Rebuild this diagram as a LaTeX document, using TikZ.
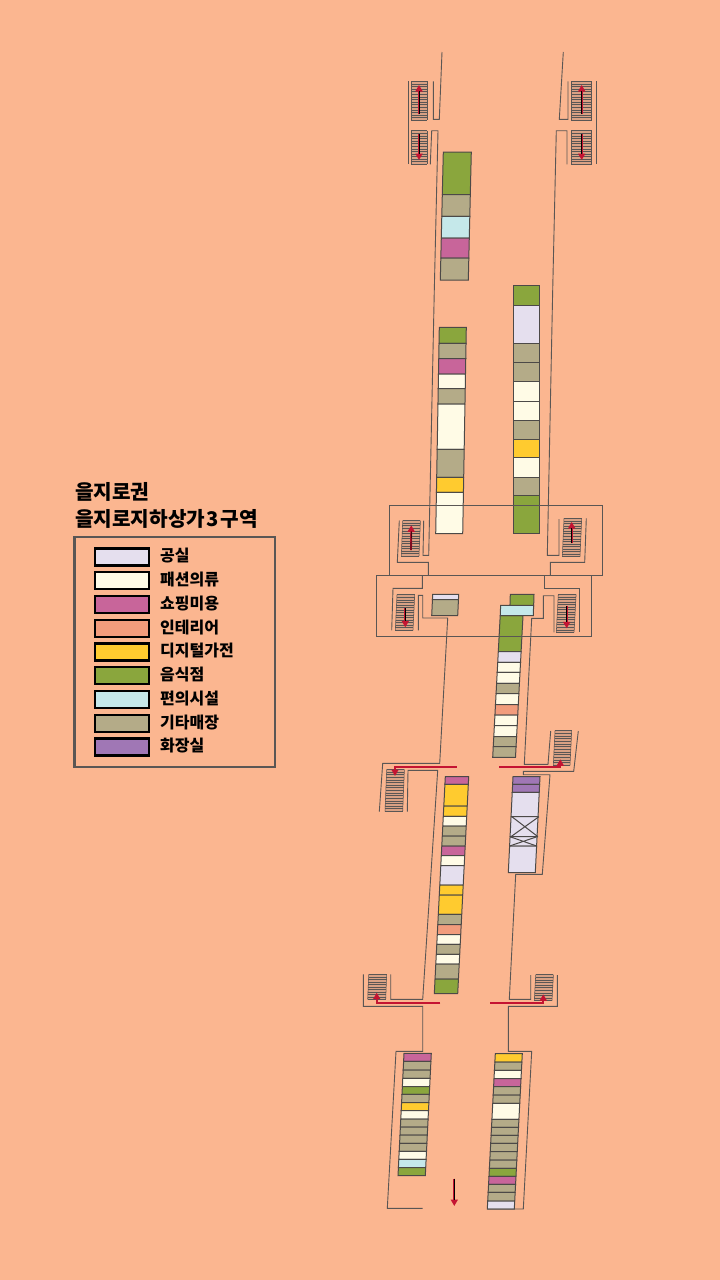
\documentclass[tikz,border=0pt]{standalone}
\usepackage{xcolor}
\usepackage{fontspec}
\setmainfont{Noto Sans CJK KR}
\usetikzlibrary{arrows.meta, positioning, calc}

\definecolor{paper}{HTML}{FBB690}
\definecolor{vacant}{HTML}{E5DFEE}
\definecolor{fashion}{HTML}{FFFBE6}
\definecolor{beauty}{HTML}{C8659A}
\definecolor{interior}{HTML}{F29C7C}
\definecolor{digital}{HTML}{FFCB2F}
\definecolor{food}{HTML}{8AA63D}
\definecolor{conv}{HTML}{C5E8EA}
\definecolor{etc}{HTML}{B4AB88}
\definecolor{toilet}{HTML}{A077B5}
\definecolor{wallgray}{HTML}{5A5654}
\definecolor{arrowred}{HTML}{C41432}
\definecolor{stepfill}{HTML}{D9A184}

\tikzset{
    wall/.style={draw=wallgray, line width=0.9pt},
    shop/.style={draw=wallgray!85!black, line width=1pt, line join=miter},
    tread/.style={draw=wallgray, line width=0.55pt},
    legendbox/.style={draw=black, line width=2.4pt, minimum width=54pt, minimum height=17pt, inner sep=0pt},
    legendtext/.style={font=\fontsize{16}{18}\selectfont\bfseries, inner sep=0pt, anchor=west},
    titletext/.style={font=\fontsize{20.2}{22}\selectfont\bfseries, inner sep=0pt, anchor=west},
    blackline/.style={draw=black, line width=2.6pt},
    redline/.style={draw=arrowred, line width=1.9pt, -{Triangle[length=6.5pt, width=7pt]}},
}

% #1 left x at the top, #2 width, #3 slope, #4 top y, #5 colour/bottom y
\newcommand{\shopstrip}[5]{
    \foreach \c/\yb [remember=\yb as \ya (initially #4)] in {#5} {
        \pgfmathsetmacro{\xa}{#1+(#3)*(\ya-#4)}
        \pgfmathsetmacro{\xb}{#1+(#3)*(\yb-#4)}
        \draw[shop, fill=\c] (\xa,\ya) -- (\xa+#2,\ya) -- (\xb+#2,\yb) -- (\xb,\yb) -- cycle;
    }
}
% #1 x at the top, #2 x at the bottom, #3 width, #4 top y, #5 bottom y
\newcommand{\stairs}[5]{
    \fill[stepfill] (#1,#4) -- (#1+#3,#4) -- (#2+#3,#5) -- (#2,#5) -- cycle;
    \pgfmathsetmacro{\nsteps}{int((#5-#4)/2.5)}
    \foreach \s in {0,...,\nsteps} {
        \pgfmathsetmacro{\sy}{#4+(#5-#4)*\s/\nsteps}
        \pgfmathsetmacro{\sx}{#1+(#2-#1)*\s/\nsteps}
        \draw[tread] (\sx,\sy) -- (\sx+#3,\sy);
    }
    \draw[tread] (#1,#4) -- (#2,#5) (#1+#3,#4) -- (#2+#3,#5);
}

\begin{document}
\begin{tikzpicture}[x=1pt, y=-1pt]
    \useasboundingbox (0,0) rectangle (720,1280);
    \fill[paper] (0,0) rectangle (720,1280);

    % legend
    \node[titletext] (title1) at (75,492) {을지로권};
    \node[titletext] (title2) at (75,518.5) {을지로지하상가\kern1.5pt 3\kern1.5pt 구역};
    \draw[draw=wallgray, line width=2.8pt] (74.5,537) rectangle (275,767);
    \foreach \c/\t [count=\i from 0] in {vacant/공실, fashion/패션의류, beauty/쇼핑미용, interior/인테리어,
        digital/디지털가전, food/음식점, conv/편의시설, etc/기타매장, toilet/화장실} {
        \node[legendbox, fill=\c] (swatch\i) at (122,557+23.75*\i) {};
        \node[legendtext] (label\i) at (160,556+23.75*\i) {\t};
    }

    % shops
    \shopstrip{443.3}{28}{-.0234}{152}{food/194.7, etc/216.3, conv/238, beauty/258, etc/280}
    \shopstrip{439.3}{27}{-.0174}{327.3}{food/343.3, etc/358.7, beauty/374, fashion/388.7, etc/404,
        fashion/449.3, etc/477.3, digital/492.3, fashion/533.7}
    \shopstrip{513.7}{25.5}{0}{285.7}{food/305, vacant/343.3, etc/362.3, etc/381.3, fashion/401,
        fashion/420.3, etc/439.3, digital/457.3, fashion/477.3, etc/495.7, food/533.7}
    \shopstrip{432.7}{26}{-.047}{594.3}{vacant/599.7, etc/615.7}
    \shopstrip{510.3}{23.7}{-.03}{594.3}{food/606}
    \shopstrip{500.2}{22.8}{-.053}{615.7}{food/651.7, vacant/662.3, fashion/672.3, fashion/683.3, etc/693.7,
        fashion/704.7, interior/715, fashion/725.7, fashion/736.7, etc/746.7, etc/757.3}
    \shopstrip{500.6}{33}{-.03}{605.3}{conv/615.7}
    \shopstrip{445.3}{23.4}{-.0507}{776.7}{beauty/784.3, digital/806, digital/816.3, fashion/826, etc/836,
        etc/846, beauty/855.7, fashion/865.7, vacant/885, digital/895, digital/914.3, etc/924.7,
        interior/934.7, fashion/944.3, etc/954.3, fashion/964, etc/979, food/993.7}
    \shopstrip{513}{27}{-.049}{776.7}{toilet/784.3, toilet/792.3, vacant/816.7, vacant/836.7, vacant/846, vacant/872.7}
    \draw[shop] (511.9,816.7) -- (537.9,836.7) (538.9,816.7) -- (510.9,836.7);
    \draw[shop] (510,836.7) -- (536.6,846) (537,836.7) -- (509.6,846);
    \shopstrip{404}{27.3}{-.049}{1053.3}{beauty/1061.3, etc/1070, etc/1078.3, fashion/1086.7, food/1094.3,
        etc/1102.7, digital/1110.7, fashion/1119, etc/1127, etc/1135, etc/1143.3, etc/1151.3,
        fashion/1159.3, conv/1167.7, food/1175.7}
    \shopstrip{495.3}{27}{-.0515}{1053.7}{digital/1062, etc/1070.3, fashion/1078.7, beauty/1086.7, etc/1095,
        etc/1103.3, fashion/1119.3, etc/1127.3, etc/1135.3, etc/1143.3, etc/1151.7, etc/1160,
        etc/1168.3, food/1176.3, beauty/1184.3, etc/1192.3, etc/1201, vacant/1209}

    % stairs
    \stairs{411.3}{411.3}{16}{81.3}{120.3}
    \stairs{411.3}{411.3}{16}{130.7}{164.3}
    \stairs{571.3}{571.3}{20.4}{81.3}{120.3}
    \stairs{571.3}{571.3}{20.4}{130.7}{164.3}
    \stairs{402.7}{401.3}{17.7}{520.7}{556}
    \stairs{564}{562.3}{17.7}{518.3}{556.7}
    \stairs{397}{395.3}{17.7}{594.7}{630.3}
    \stairs{558.3}{556.3}{17.8}{594.3}{632.3}
    \stairs{386.7}{385}{17.7}{769.3}{811.3}
    \stairs{555}{553.3}{16.7}{730.7}{765.3}
    \stairs{368.7}{367.7}{18}{974.3}{999.3}
    \stairs{535.7}{534.3}{17.7}{974.7}{1000.7}

    % walls
    \draw[wall] (408.3,81.3) -- (408.3,164.3);
    \draw[wall] (596,81.3) -- (596,164.3);
    \draw[wall] (442,52) -- (439.3,119.3) -- (433.3,119.3) -- (433.3,81.3);
    \draw[wall] (563.3,52) -- (559.3,119.3) -- (568,119.3) -- (568,81.3);
    \draw[wall] (430.3,164.3) -- (431.7,130.7) -- (438,130.7) -- (434.3,290) -- (428.7,555.3) -- (423,555.3) -- (423.7,520.7);
    \draw[wall] (567,164.3) -- (567,130.7) -- (556.3,130.7) -- (552.7,290) -- (547.3,555.3) -- (559,555.3) -- (559,519);
    \draw[wall] (399.3,520.7) -- (397.3,562.3) -- (428.3,562.3) -- (428.3,575);
    \draw[wall] (586.3,518.3) -- (584.7,562.3) -- (550.3,562.3) -- (550.3,575);
    \draw[wall] (422.3,575.5) -- (422.3,588.3) -- (393,588.3) -- (391.7,630.3);
    \draw[wall] (418.3,630.3) -- (418.3,595.3) -- (422.7,595.3) -- (422.7,618) -- (447.7,618) -- (439.7,763.3) -- (382.7,763.3) -- (379.3,811.7);
    \draw[wall] (544.3,575.5) -- (544.3,588.3) -- (579.3,588.3) -- (579.3,632.3);
    \draw[wall] (554,632.3) -- (554,595.7) -- (543.3,595.7) -- (543.3,618.3) -- (531.7,618.3) -- (524.3,764.3) -- (548,764.3) -- (550.7,731);
    \draw[wall] (407.3,811.7) -- (408,770.3) -- (437.7,770.3) -- (422.7,999.3) -- (390.7,999.3) -- (390.7,974.3);
    \draw[wall] (578.3,731) -- (573.7,771.3) -- (523.3,771.3) -- (523.3,774.7) -- (550,774.7) -- (542.3,874.3) -- (515.7,874.3) -- (509.3,999.3) -- (530.7,999.3) -- (530.7,975);
    \draw[wall] (363.3,974.3) -- (363.3,1006.3) -- (422.7,1006.3) -- (422.7,1051.3) -- (396,1051.3) -- (387.3,1208.3) -- (422.7,1208.3);
    \draw[wall] (557.3,975) -- (557.3,1006.3) -- (508.3,1006.3) -- (508.3,1051.3) -- (531.7,1051.3) -- (523.3,1209) -- (487.3,1209);
    \draw[wall, line width=1pt] (389.7,505.2) rectangle (602,575);
    \draw[wall, line width=1pt] (376,575.2) rectangle (591.3,636.2);

    % red arrows
    \foreach \xa/\ya/\xb/\yb in {419/114/419/85, 419/134/419/160, 581.7/114/581.7/85, 581.7/134/581.7/160,
        411/550/411.3/525.3, 571.7/543.3/571.7/522, 405.3/608.3/405.3/627.3, 566.7/606/566.7/628.3,
        454.3/1178.7/454.3/1206} {
        \draw[redline] (\xa,\ya) -- (\xb,\yb);
        \draw[draw=black, line width=.7pt, shorten >=6pt] (\xa,\ya) -- (\xb,\yb);
    }
    \foreach \xa/\ya/\xb/\yb in {456.7/767/395/776, 499/767/560.3/759.3, 440/1003/376.7/992.7, 490/1003/543.3/994.3} {
        \draw[blackline] (\xa,\ya) -- (\xb,\ya);
        \draw[redline] (\xa,\ya) -- (\xb,\ya) -- (\xb,\yb);
    }
\end{tikzpicture}
\end{document}
